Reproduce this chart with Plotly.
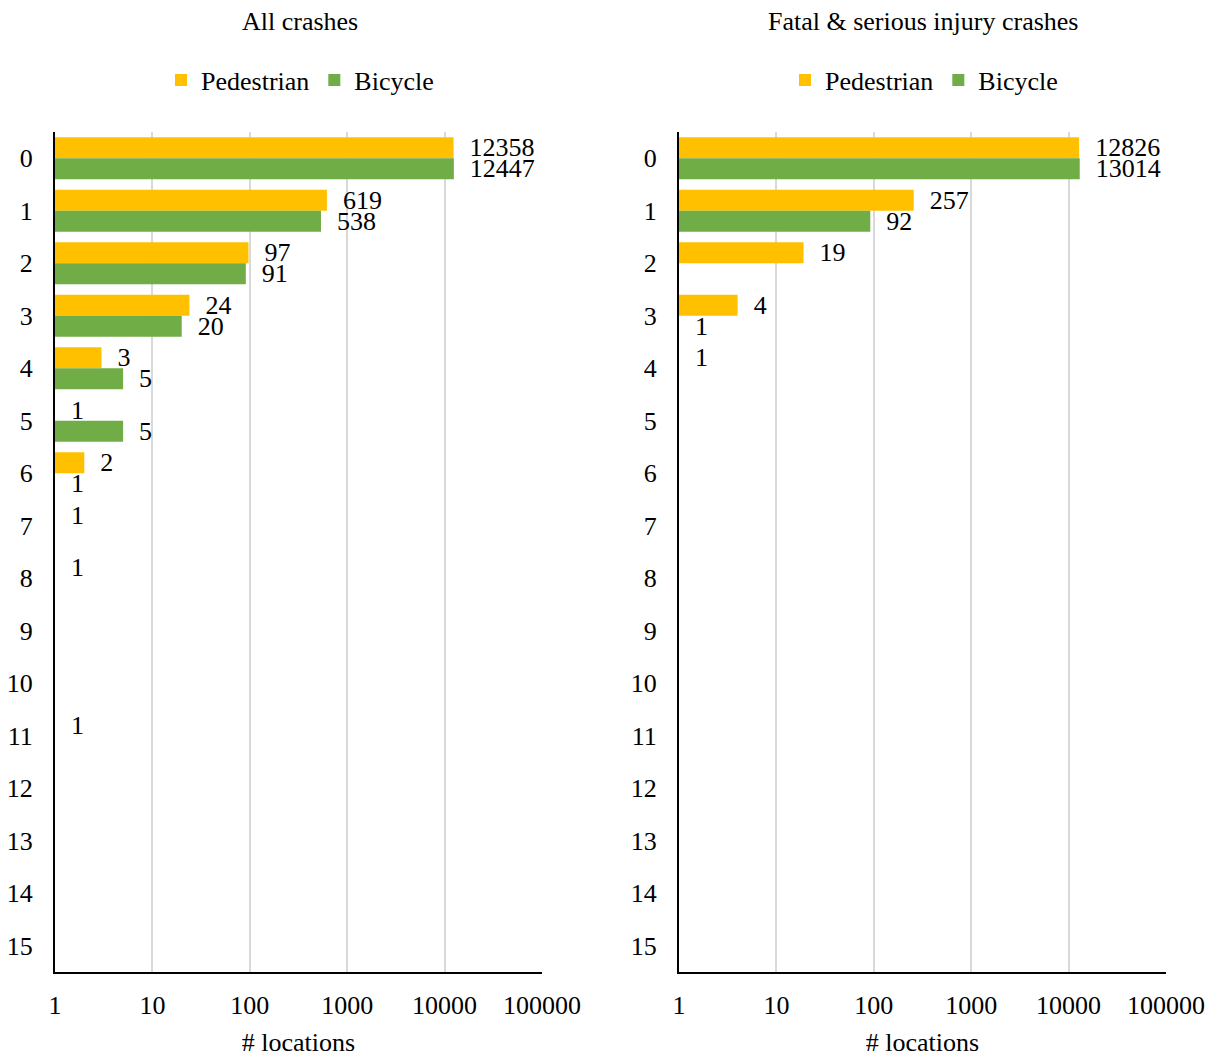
import plotly.graph_objects as go

categories = [str(i) for i in range(16)]

# All crashes
all_ped = [12358, 619, 97, 24, 3, 1, 2, 1, 1, None, None, 1, None, None, None, None]
all_bic = [12447, 538, 91, 20, 5, 5, 1, None, None, None, None, None, None, None, None, None]

# Fatal & serious injury crashes
ksi_ped = [12826, 257, 19, 4, 1, None, None, None, None, None, None, None, None, None, None, None]
ksi_bic = [13014, 92, None, 1, None, None, None, None, None, None, None, None, None, None, None, None]

tick_vals = [1, 10, 100, 1000, 10000, 100000]
tick_text = ["1", "10", "100", "1000", "10000", "100000"]

PED_COLOR = "#FFC000"
BIC_COLOR = "#70AD47"
FONT = "Times New Roman, Liberation Serif, serif"
FS = 26

fig = go.Figure()

def lbl(vals):
    return ["\u00a0\u00a0" + str(v) if v is not None else "" for v in vals]

panels = [
    (all_ped, all_bic, "x", "y", "legend"),
    (ksi_ped, ksi_bic, "x2", "y2", "legend2"),
]
for ped, bic, xa, ya, lg in panels:
    for name, vals, col in [("Pedestrian", ped, PED_COLOR), ("Bicycle", bic, BIC_COLOR)]:
        fig.add_trace(go.Bar(
            y=categories, x=vals, name=name, orientation="h",
            marker=dict(color=col, line=dict(width=0)),
            text=lbl(vals), textposition="outside", constraintext="none",
            textfont=dict(family=FONT, size=FS, color="black"),
            cliponaxis=False,
            xaxis=xa, yaxis=ya, legend=lg,
        ))

W, H = 1215, 1057
ydom = [1 - 972 / H, 1 - 132 / H]

xcommon = dict(
    type="log", range=[0, 5], tickvals=tick_vals, ticktext=tick_text,
    showgrid=True, gridcolor="#D9D9D9", gridwidth=2,
    showline=True, linecolor="black", linewidth=2,
    ticks="", ticklabelstandoff=9, automargin=False,
    tickfont=dict(family=FONT, size=FS, color="black"),
    title=dict(text="# locations", font=dict(family=FONT, size=FS, color="black"), standoff=14),
    zeroline=False, fixedrange=True,
)
ycommon = dict(
    type="category", categoryorder="array", categoryarray=categories,
    autorange="reversed", showgrid=False,
    showline=True, linecolor="black", linewidth=2,
    ticks="", ticklabelstandoff=15, automargin=False,
    tickfont=dict(family=FONT, size=FS, color="black"),
    domain=ydom, fixedrange=True,
)

legcommon = dict(
    orientation="h", xanchor="center", yanchor="middle",
    font=dict(family=FONT, size=FS, color="black"),
    bgcolor="rgba(0,0,0,0)", itemwidth=30, traceorder="normal",
)

fig.update_layout(
    width=W, height=H,
    margin=dict(l=0, r=0, t=0, b=0),
    paper_bgcolor="white", plot_bgcolor="white",
    barmode="group", bargap=0.2, bargroupgap=0,
    xaxis=dict(domain=[55 / W, 542 / W], anchor="y", **xcommon),
    yaxis=dict(anchor="x", **ycommon),
    xaxis2=dict(domain=[679 / W, 1166 / W], anchor="y2", **xcommon),
    yaxis2=dict(anchor="x2", **ycommon),
    legend=dict(x=300 / W, y=1 - 80 / H, **legcommon),
    legend2=dict(x=924 / W, y=1 - 80 / H, **legcommon),
    annotations=[
        dict(text="All crashes", x=300 / W, y=1 - 22 / H, xref="paper", yref="paper",
             showarrow=False, font=dict(family=FONT, size=FS, color="black"),
             xanchor="center", yanchor="middle"),
        dict(text="Fatal & serious injury crashes", x=923 / W, y=1 - 22 / H, xref="paper", yref="paper",
             showarrow=False, font=dict(family=FONT, size=FS, color="black"),
             xanchor="center", yanchor="middle"),
    ],
    showlegend=True,
)

fig.write_html("out.html")
